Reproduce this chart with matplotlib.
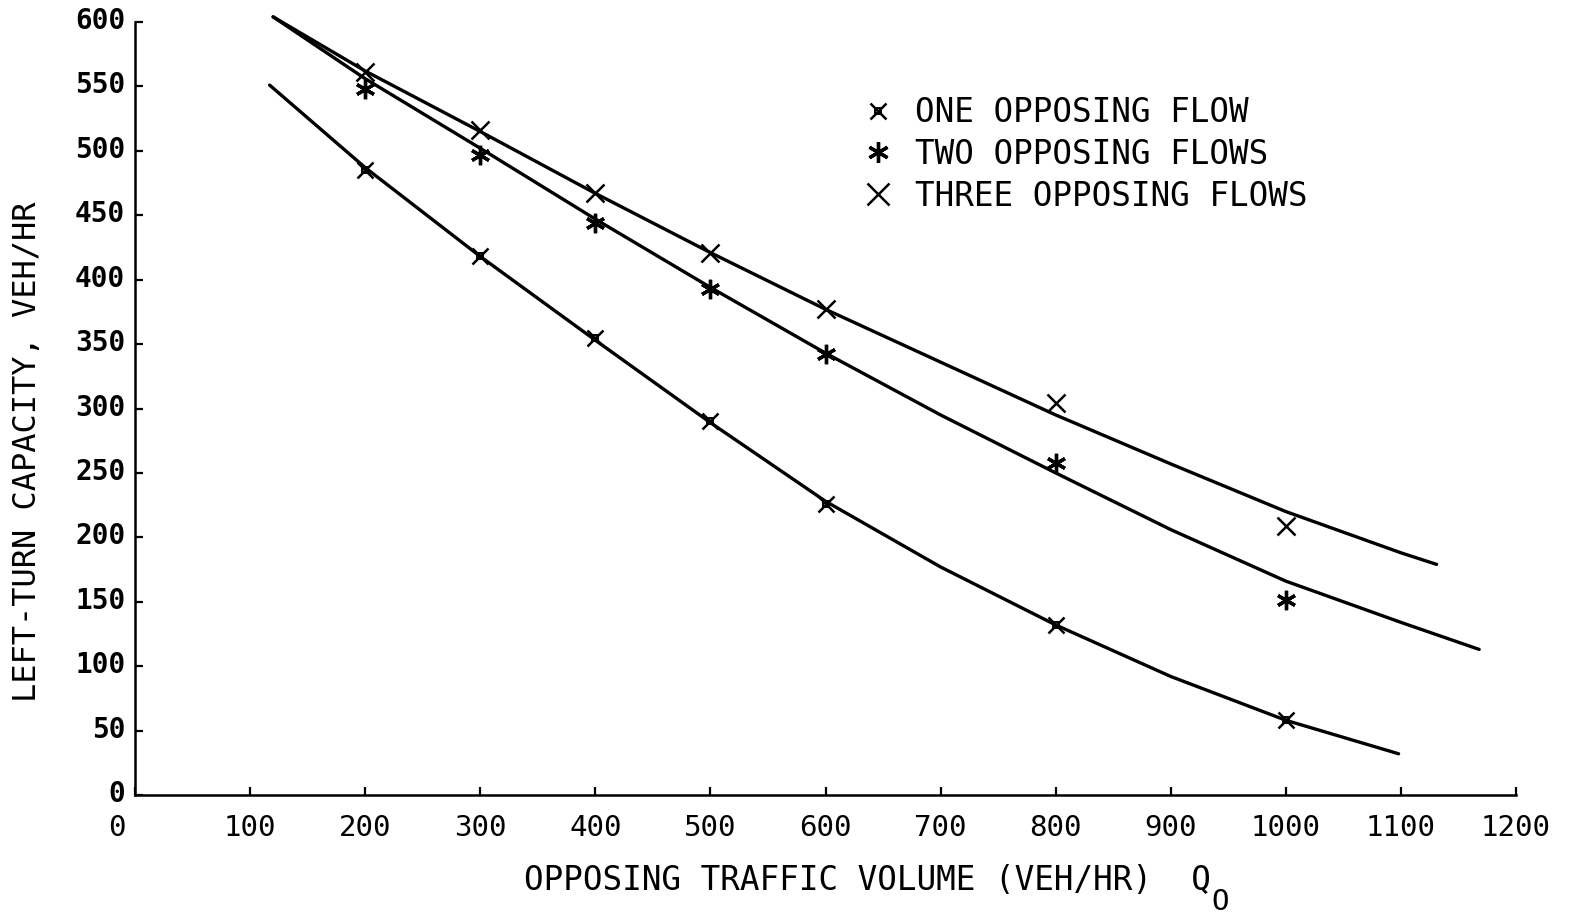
import matplotlib
matplotlib.use("Agg")
import matplotlib.pyplot as plt
from matplotlib.lines import Line2D
from matplotlib.legend_handler import HandlerTuple
from matplotlib.transforms import ScaledTranslation

# observed points (opposing volume, veh/hr)
flow_x = [200, 300, 400, 500, 600, 800, 1000]
one_flow = [485, 418, 355, 290, 226, 132, 58]
two_flows = [548, 497, 444, 393, 342, 258, 151]
three_flows = [561, 516, 467, 421, 377, 304, 209]

# fitted curves
curve_one_x = [117, 200, 300, 400, 500, 600, 700, 800, 900, 1000, 1098]
curve_one_y = [551, 487, 418, 353, 289, 228, 177, 132, 92, 58, 32]
curve_two_x = [120, 200, 300, 400, 500, 600, 700, 800, 900, 1000, 1100, 1168]
curve_two_y = [604, 556, 502, 447, 394, 343, 295, 250, 206, 166, 134, 113]
curve_three_x = [120, 200, 300, 400, 500, 600, 700, 800, 900, 1000, 1100, 1131]
curve_three_y = [604, 562, 515, 467, 421, 377, 336, 295, 257, 220, 188, 179]

x_ticks = list(range(0, 1201, 100))
y_ticks = list(range(0, 601, 50))
legend_labels = ["ONE OPPOSING FLOW", "TWO OPPOSING FLOWS", "THREE OPPOSING FLOWS"]

plt.rcParams['font.family'] = ['DejaVu Sans Mono']

W, H = 1575, 916
fig = plt.figure(figsize=(W / 100, H / 100), dpi=100)
ax = fig.add_axes([135 / W, 1 - 795 / H, (1516 - 135) / W, (795 - 22) / H])

lw = 2.4
for cx, cy in [(curve_one_x, curve_one_y), (curve_two_x, curve_two_y),
               (curve_three_x, curve_three_y)]:
    ax.plot(cx, cy, color='black', lw=lw, clip_on=False, solid_capstyle='round')

mk = dict(color='black', linestyle='none', clip_on=False)
ax.plot(flow_x, one_flow, marker='s', ms=5, mfc='none', mew=1.4, **mk)
ax.plot(flow_x, one_flow, marker='x', ms=11, mew=1.8, **mk)
ax.plot(flow_x, two_flows, marker=(6, 2, 0), ms=14, mew=2.4, **mk)
ax.plot(flow_x, three_flows, marker='x', ms=13, mew=1.8, **mk)

ax.set_xlim(0, 1200)
ax.set_ylim(0, 600)
for s in ['top', 'right']:
    ax.spines[s].set_visible(False)
for s in ['left', 'bottom']:
    ax.spines[s].set_linewidth(1.8)

ax.set_xticks(x_ticks)
ax.set_yticks(y_ticks)
ax.tick_params(direction='in', length=6, width=1.6)
ax.tick_params(axis='x', pad=14, labelsize=21)
ax.tick_params(axis='y', pad=7, labelsize=20)
for lab in ax.get_yticklabels():
    lab.set_fontweight('bold')

# y labels sit a little above their ticks in the original
for tick in ax.yaxis.get_major_ticks():
    tick.label1.set_transform(tick.label1.get_transform()
                              + ScaledTranslation(0, 0.04, fig.dpi_scale_trans))

# the "0" on the x axis sits left of the origin in the original
zero_tick = ax.xaxis.get_major_ticks()[0]
zero_tick.label1.set_transform(zero_tick.label1.get_transform()
                               + ScaledTranslation(-0.18, 0, fig.dpi_scale_trans))

# legend
h_one = (Line2D([], [], marker='s', ms=5, mfc='none', mew=1.4, **mk),
         Line2D([], [], marker='x', ms=12, mew=1.8, **mk))
h_two = Line2D([], [], marker=(6, 2, 0), ms=15, mew=2.4, **mk)
h_three = Line2D([], [], marker='x', ms=16, mew=1.8, **mk)
ax.legend([h_one, h_two, h_three], legend_labels,
          handler_map={tuple: HandlerTuple(ndivide=1)},
          loc='upper left', bbox_to_anchor=(862 / W, 1 - 96 / H),
          bbox_transform=fig.transFigure, frameon=False,
          prop={'size': 23.5}, handlelength=1.0, handletextpad=0.62,
          labelspacing=0.27, borderpad=0, borderaxespad=0)

fig.text(28 / W, 1 - 452 / H, "LEFT-TURN CAPACITY, VEH/HR", rotation=90,
         ha='center', va='center', fontsize=23)
fig.text(524 / W, 1 - 880 / H, "OPPOSING TRAFFIC VOLUME (VEH/HR)  Q",
         ha='left', va='center', fontsize=23.5)
fig.text(1211 / W, 1 - 902 / H, "O", ha='left', va='center', fontsize=21)

fig.savefig("out.png", dpi=100)
